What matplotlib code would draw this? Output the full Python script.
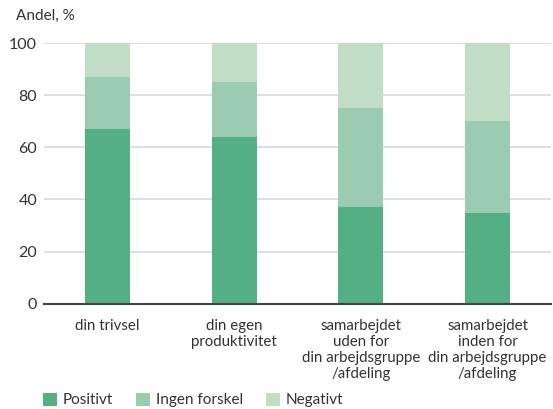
import matplotlib
matplotlib.use("Agg")
import matplotlib.pyplot as plt
from matplotlib.patches import Patch

categories = ["din trivsel", "din egen\nproduktivitet",
              "samarbejdet\nuden for\ndin arbejdsgruppe\n/afdeling",
              "samarbejdet\ninden for\ndin arbejdsgruppe\n/afdeling"]
positivt = [67, 64, 37, 35]
ingen_forskel = [20, 21, 38, 35]
negativt = [13, 15, 25, 30]
series_names = ["Positivt", "Ingen forskel", "Negativt"]
yticks = [0, 20, 40, 60, 80, 100]

colors = ["#54AF84", "#9BCBB1", "#C1DDC6"]

plt.rcParams['font.family'] = ['Lato', 'DejaVu Sans']
W, H = 553, 409
fig = plt.figure(figsize=(W/100, H/100), dpi=100)
ax = fig.add_axes([44/W, 1-303.5/H, 507/W, 260/H])

x = list(range(len(categories)))
bw = 0.355
# cumulative stacks drawn back-to-front to avoid seams
cum_pos = positivt
cum_ing = [p + i for p, i in zip(positivt, ingen_forskel)]
cum_all = [c + n for c, n in zip(cum_ing, negativt)]
ax.bar(x, cum_all, bw, color=colors[2], linewidth=0, zorder=3)
ax.bar(x, cum_ing, bw, color=colors[1], linewidth=0, zorder=3)
ax.bar(x, cum_pos, bw, color=colors[0], linewidth=0, zorder=3)

ax.set_xlim(-0.5, 3.5)
ax.set_ylim(0, 100)
ax.set_yticks(yticks)
ax.set_yticklabels([str(v) for v in yticks], fontsize=11.5, color="#333333")
ax.yaxis.grid(True, color="#D9D9D9", linewidth=1.2, zorder=0)
ax.set_axisbelow(True)
for s in ["top", "right", "left"]:
    ax.spines[s].set_visible(False)
ax.spines["bottom"].set_color("#444444")
ax.spines["bottom"].set_linewidth(1.5)
ax.spines["bottom"].set_zorder(4)
ax.tick_params(axis="y", length=0, pad=5)
ax.tick_params(axis="x", length=0, pad=11)
ax.set_xticks(x)
ax.set_xticklabels(categories, fontsize=10.8, color="#333333", linespacing=1.2)

fig.text(16/W, 1-16/H, "Andel, %", fontsize=11, color="#333333", va="center", ha="left")

handles = [Patch(facecolor=c, edgecolor="none") for c in colors]
leg = fig.legend(handles, series_names, loc="center left", bbox_to_anchor=(29/W, 1-400/H),
                 ncol=3, frameon=False, fontsize=11, handlelength=0.95, handleheight=0.95,
                 handletextpad=0.35, columnspacing=1.5, labelcolor="#333333")

fig.savefig("out.png", dpi=100)
